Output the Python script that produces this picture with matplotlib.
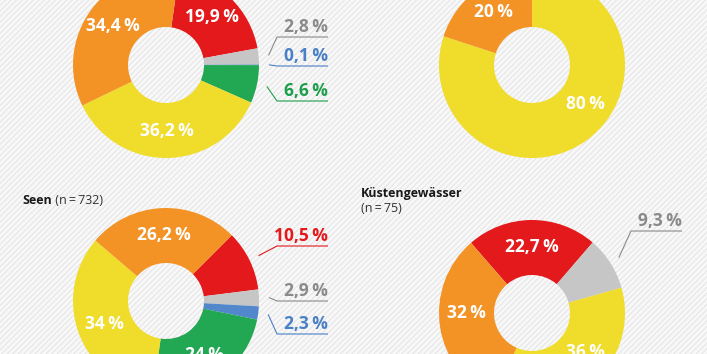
import numpy as np
import matplotlib
matplotlib.use('Agg')
import matplotlib.pyplot as plt
from matplotlib.patches import Rectangle

plt.rcParams['font.family'] = ['Open Sans', 'DejaVu Sans']
plt.rcParams['hatch.linewidth'] = 0.8

W, H = 707, 354

# colours per category
palette = {'red': '#e3191c', 'gray': '#c6c6c6', 'blue': '#5387cb',
           'green': '#22a752', 'yellow': '#f0dc2a', 'orange': '#f39325'}
text_colors = {'red': '#e3191c', 'gray': '#8a8a8a', 'blue': '#4a80c6', 'green': '#1f9e4c'}

# top left (title cut off)
tl_cats = ['red', 'gray', 'blue', 'green', 'yellow', 'orange']
tl_values = [19.9, 2.8, 0.1, 6.6, 36.2, 34.4]

# top right (title cut off)
tr_cats = ['yellow', 'orange']
tr_values = [80, 20]

# Seen (n=732)
bl_cats = ['red', 'gray', 'blue', 'green', 'yellow', 'orange']
bl_values = [10.5, 2.9, 2.3, 24, 34, 26.2]

# Küstengewässer (n=75)
br_cats = ['red', 'gray', 'yellow', 'orange']
br_values = [22.7, 9.3, 36, 32]


def fmt(v):
    return f'{v:g}'.replace('.', ',') + '\u2009%'


fig = plt.figure(figsize=(W / 100, H / 100), dpi=100)
fig.patch.set_facecolor('#f8f8f8')
ax = fig.add_axes([0, 0, 1, 1])
ax.set_axis_off()

# striped background
ax.add_patch(Rectangle((0, 0), W, H, facecolor='#f8f8f8', edgecolor='#e6e6e6',
                       hatch='//////', linewidth=0, zorder=0))

R_OUT, R_IN = 93, 38


def donut(cx, cy, values, cats, start, outside, label_x, label_angle=None):
    """outside: dict index -> underline offset (px, downwards) from centre
    label_angle: dict index -> angle (deg) for inner labels placed off-centre"""
    label_angle = label_angle or {}
    cy = H - cy
    ax.pie(values, colors=[palette[c] for c in cats], startangle=start,
           counterclock=False, radius=R_OUT, center=(cx, cy),
           wedgeprops=dict(width=R_OUT - R_IN, linewidth=0))
    total = sum(values)
    a = start
    for i, v in enumerate(values):
        span = 360 * v / total
        mid = np.radians(label_angle.get(i, a - span / 2))
        a -= span
        if i in outside:
            col = text_colors[cats[i]]
            ly = cy - outside[i]
            sx, sy = cx + 103 * np.cos(mid), cy + 103 * np.sin(mid)
            kx = label_x - 51
            ax.plot([sx, kx, label_x], [sy, ly, ly], color=col, lw=0.8,
                    solid_capstyle='butt', zorder=3)
            ax.text(label_x, ly + 5, fmt(v), color=col, fontsize=12.5,
                    fontweight='bold', ha='right', va='baseline', zorder=4)
        else:
            r = (R_OUT + R_IN) / 2 + 0.5
            ax.text(cx + r * np.cos(mid), cy + r * np.sin(mid), fmt(v),
                    color='white', fontsize=12.5, fontweight='bold',
                    ha='center', va='center', zorder=4)


donut(166, 65, tl_values, tl_cats, 82, {1: -28, 2: 1, 3: 36}, 328)
donut(532, 65, tr_values, tr_cats, 90, {}, 682, {0: -36})
donut(166, 301, bl_values, bl_cats, 45, {0: -55, 1: 0, 2: 33}, 328)
donut(532, 313, br_values, br_cats, 131, {1: -82}, 682, {2: -36, 3: 180})

# titles
t1 = ax.text(22, H - 200, 'Seen', fontsize=9, fontweight='bold', color='#1a1a1a',
             va='center', ha='left')
ax.annotate(' (n\u2009=\u2009732)', xy=(1, 0), xycoords=t1, va='bottom', ha='left',
            fontsize=9, color='#333333')
ax.text(361, H - 193, 'Küstengewässer', fontsize=9, fontweight='bold', color='#1a1a1a',
        va='center', ha='left')
ax.text(361, H - 208, '(n\u2009=\u200975)', fontsize=9, color='#333333',
        va='center', ha='left')

ax.set_xlim(0, W)
ax.set_ylim(0, H)
ax.set_aspect('auto')

fig.savefig('out.png', dpi=100, facecolor=fig.get_facecolor())
